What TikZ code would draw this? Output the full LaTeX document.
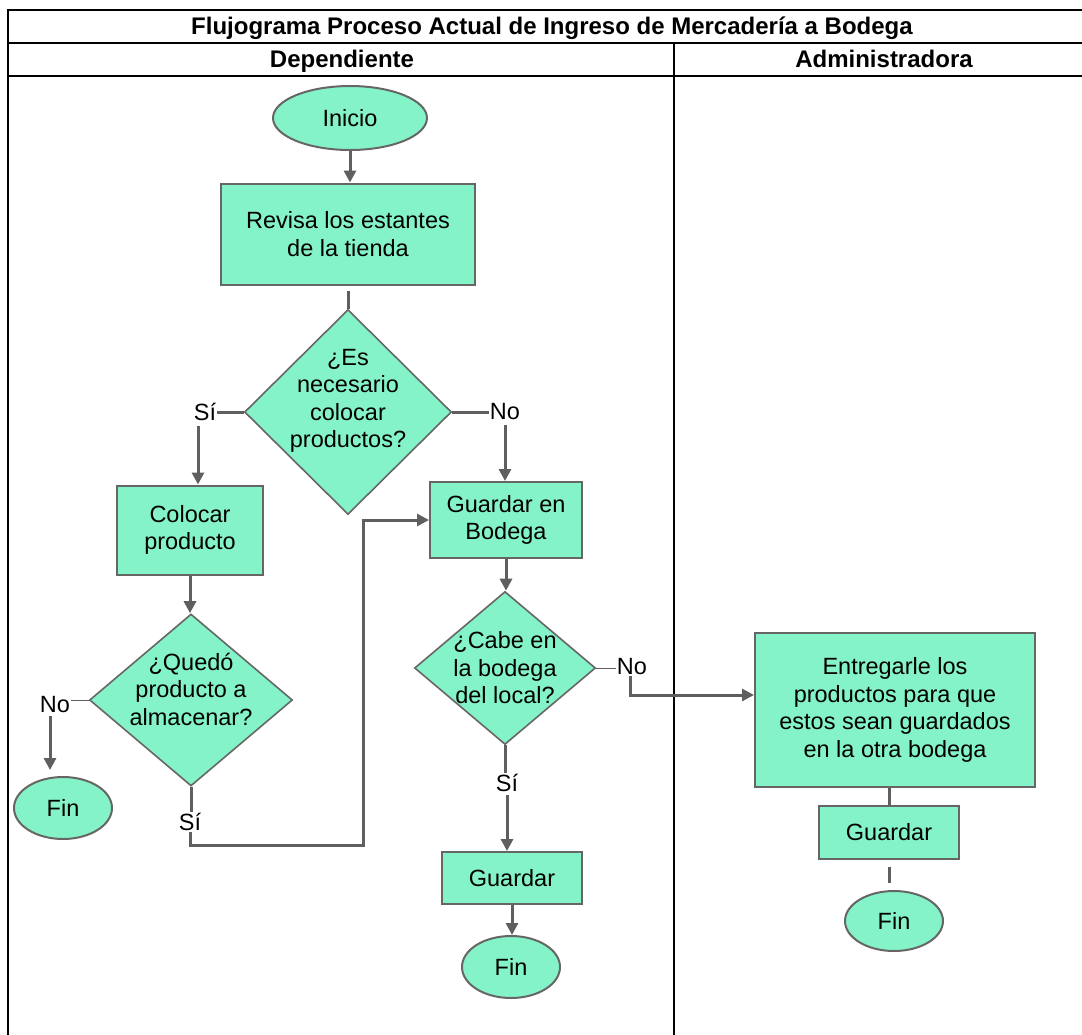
\documentclass[tikz,border=0pt]{standalone}
\usepackage{fontspec}
\setmainfont{Liberation Sans}
\usetikzlibrary{shapes.geometric,arrows.meta,positioning}
\definecolor{menta}{RGB}{132,244,200}
\definecolor{borde}{RGB}{102,102,102}
\definecolor{gris}{RGB}{95,95,95}
\tikzset{
  letra/.style={font=\fontsize{23.5}{27.5}\selectfont, align=center},
  caja/.style={letra, rectangle, draw=borde, line width=2pt, fill=menta, inner sep=0pt},
  terminal/.style={letra, ellipse, draw=borde, line width=2pt, fill=menta, inner sep=0pt},
  decision/.style={diamond, draw=borde, line width=1.6pt, fill=menta, inner sep=0pt},
  rotulo/.style={letra, inner sep=1pt},
  encabezado/.style={font=\bfseries\fontsize{24}{26}\selectfont, text height=17pt, text depth=5pt},
  linea/.style={gris, line width=3pt},
  flechita/.style={linea, -{Triangle[length=12pt,width=12pt]}},
  fina/.style={gris, line width=1pt},
  marco/.style={black, line width=2pt}
}
\begin{document}
\begin{tikzpicture}[x=1pt,y=-1pt]
\useasboundingbox (0,0) rectangle (1082,1034);

% tabla
\draw[marco] (8,1040) -- (8,10) -- (1090,10);
\draw[marco] (8,43) -- (1090,43);
\draw[marco] (8,76) -- (1090,76);
\draw[marco] (674,43) -- (674,1040);

\node[encabezado] (titulo) at (552,28) {Flujograma Proceso Actual de Ingreso de Mercadería a Bodega};
\node[encabezado] (dep) at (342,61) {Dependiente};
\node[encabezado] (adm) at (884,61) {Administradora};

% Dependiente
\node[terminal, minimum width=154pt, minimum height=64pt] (ini) at (350,118) {Inicio};
\node[caja, minimum width=254pt, minimum height=101pt] (revisa) at (348,234) {Revisa los estantes\\de la tienda};

\node[decision, minimum width=207pt, minimum height=205pt] (d1) at (348,412) {};
\node[letra] (d1t) at (348,401) {¿Es\\necesario\\colocar\\productos?};
\node[rotulo] (si1) at (205,412) {Sí};
\node[rotulo] (no1) at (505,412) {No};

\node[caja, minimum width=146pt, minimum height=89pt] (colocar) at (190,530) {Colocar\\producto};
\node[decision, minimum width=203pt, minimum height=172pt] (d2) at (191,700) {};
\node[letra] (d2t) at (191,689) {¿Quedó\\producto a\\almacenar?};
\node[rotulo] (no2) at (55,705) {No};
\node[terminal, minimum width=98pt, minimum height=62pt] (fin1) at (63,808) {Fin};
\node[rotulo] (si2) at (190,822) {Sí};
\coordinate (codo) at (363,845);

\node[caja, minimum width=152pt, minimum height=76pt] (bodega) at (506,520) {Guardar en\\Bodega};
\node[decision, minimum width=181pt, minimum height=153pt] (d3) at (505,668) {};
\node[letra] (d3t) at (505,668) {¿Cabe en\\la bodega\\del local?};
\node[rotulo] (no3) at (632,667) {No};
\node[rotulo] (si3) at (507,783) {Sí};
\node[caja, minimum width=140pt, minimum height=52pt] (guardar1) at (512,878) {Guardar};
\node[terminal, minimum width=98pt, minimum height=62pt] (fin2) at (511,967) {Fin};

% Administradora
\node[caja, minimum width=280pt, minimum height=154pt] (entregar) at (895,710) {Entregarle los\\productos para que\\estos sean guardados\\en la otra bodega};
\node[caja, minimum width=140pt, minimum height=53pt] (guardar2) at (889,832) {Guardar};
\node[terminal, minimum width=98pt, minimum height=60pt] (fin3) at (894,921) {Fin};

% conectores
\draw[flechita] (ini.south) -- (ini.south |- revisa.north);
\draw[linea, shorten <=5pt] (revisa.south) -- (d1.north);
\draw[linea] (d1.west) -- (d1.west -| si1.east);
\draw[flechita, shorten <=4pt] ([xshift=-7pt]si1.south) -- ([xshift=-7pt]si1.south |- colocar.north);
\draw[linea] (d1.east) -- (d1.east -| no1.west);
\draw[flechita, shorten <=4pt] (no1.south) -- (no1.south |- bodega.north);

\draw[flechita] (colocar.south) -- (colocar.south |- d2.north);
\draw[fina] (d2.west) -- (d2.west -| no2.east);
\draw[flechita, shorten <=2pt, shorten >=6pt] ([xshift=-5pt]no2.south) -- ([xshift=-5pt]no2.south |- fin1.north);
\draw[linea] (d2.south) -- (d2.south |- si2.north);
\draw[flechita] (si2.south) -- (si2.south |- codo) -- (codo) |- (bodega.west);

\draw[flechita] (bodega.south) -- (bodega.south |- d3.north);
\draw[fina] (d3.east) -- (d3.east -| no3.west);
\draw[flechita] ([xshift=-2pt]no3.south) |- ([yshift=15pt]entregar.west);
\draw[linea] (d3.south) -- (d3.south |- si3.north);
\draw[flechita, shorten <=2pt] (si3.south) -- (si3.south |- guardar1.north);
\draw[flechita] (guardar1.south) -- (guardar1.south |- fin2.north);

\draw[linea] (guardar2.north |- entregar.south) -- (guardar2.north);
\draw[linea, shorten <=7pt, shorten >=7pt] (guardar2.south) -- (guardar2.south |- fin3.north);
\end{tikzpicture}
\end{document}
